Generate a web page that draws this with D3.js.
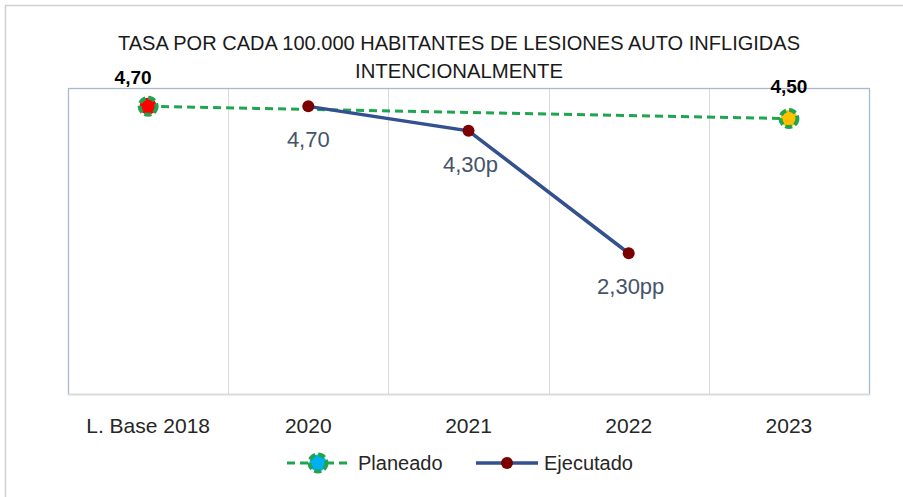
<!DOCTYPE html>
<html>
<head>
<meta charset="utf-8">
<script src="https://cdn.jsdelivr.net/npm/d3@7"></script>
<style>
  body { margin: 0; background: #fff; }
  svg { display: block; font-family: "Liberation Sans", Arial, sans-serif; }
</style>
</head>
<body>
<svg id="chart" width="903" height="497"></svg>
<script>
// chart data
let categories = ["L. Base 2018", "2020", "2021", "2022", "2023"];
let planeado = [4.70, null, null, null, 4.50];
let planeadoLabels = ["4,70", null, null, null, "4,50"];
let ejecutado = [null, 4.70, 4.30, 2.30, null];
let ejecutadoLabels = [null, "4,70", "4,30p", "2,30pp", null];
let titleLines = ["TASA POR CADA 100.000 HABITANTES DE LESIONES AUTO INFLIGIDAS", "INTENCIONALMENTE"];

let svg = d3.select("#chart");
let plot = { left: 68, right: 869, top: 88, bottom: 394 };

let x = d3.scaleBand()
    .domain(categories)
    .range([plot.left, plot.right]);

let y = d3.scaleLinear()
    .domain([0, 5])
    .range([plot.bottom, plot.top]);

//outer chart border
svg.append("rect")
    .attr("x", 5.5).attr("y", 5.5)
    .attr("width", 950).attr("height", 550)
    .attr("fill", "none")
    .attr("stroke", "#d0d0d0")
    .attr("stroke-width", 1.5);

//title (squeezed to look like the condensed original)
svg.selectAll(".title")
    .data(titleLines)
    .enter()
    .append("text")
    .attr("class", "title")
    .attr("x", 459)
    .attr("y", (d, i) => 50 + i * 28)
    .attr("text-anchor", "middle")
    .attr("textLength", (d, i) => i == 0 ? 682 : 208)
    .attr("lengthAdjust", "spacingAndGlyphs")
    .style("font-size", "21px")
    .style("fill", "#1a1a1a")
    .text(d => d);

//vertical gridlines between categories
svg.selectAll(".grid")
    .data(categories.slice(1))
    .enter()
    .append("line")
    .attr("x1", d => Math.round(x(d)) + 0.5)
    .attr("x2", d => Math.round(x(d)) + 0.5)
    .attr("y1", plot.top)
    .attr("y2", plot.bottom)
    .attr("stroke", "#d9d9d9")
    .attr("stroke-width", 1);

//plot area border
svg.append("rect")
    .attr("x", plot.left + 0.5).attr("y", plot.top + 0.5)
    .attr("width", plot.right - plot.left).attr("height", plot.bottom - plot.top)
    .attr("fill", "none")
    .attr("stroke", "#a9b8d2")
    .attr("stroke-width", 1.3);

svg.append("line")
    .attr("x1", plot.left).attr("x2", plot.right + 1)
    .attr("y1", plot.bottom + 0.5).attr("y2", plot.bottom + 0.5)
    .attr("stroke", "#d9d9d9")
    .attr("stroke-width", 1.5);

//x axis labels
let xAxis = d3.axisBottom(x).tickSize(0).tickPadding(0);
let gx = svg.append("g")
    .attr("transform", "translate(0," + (plot.bottom + 24) + ")")
    .call(xAxis);
gx.select(".domain").remove();
gx.selectAll("text")
    .attr("dy", "0.71em")
    .style("font-family", "\"Liberation Sans\", Arial, sans-serif")
    .style("font-size", "21px")
    .style("fill", "#262626");

let cx = (d, i) => x(categories[i]) + x.bandwidth() / 2;

//planeado dashed line
let planPoints = planeado.map((v, i) => ({ v: v, i: i })).filter(d => d.v != null);
let lineGen = d3.line()
    .x(d => cx(null, d.i))
    .y(d => y(d.v));

svg.append("path")
    .attr("d", lineGen(planPoints))
    .attr("fill", "none")
    .attr("stroke", "#1fa54f")
    .attr("stroke-width", 3)
    .attr("stroke-dasharray", "8,5");

//ejecutado solid line
let ejePoints = ejecutado.map((v, i) => ({ v: v, i: i })).filter(d => d.v != null);
svg.append("path")
    .attr("d", lineGen(ejePoints))
    .attr("fill", "none")
    .attr("stroke", "#33508f")
    .attr("stroke-width", 3.5);

function fancyMarker(g, px, py, fillColor)
{
    g.append("circle")
        .attr("cx", px).attr("cy", py).attr("r", 8.5)
        .attr("fill", fillColor)
        .attr("stroke", "#1fa54f")
        .attr("stroke-width", 4)
        .attr("stroke-dasharray", "7,3");
}

//planeado markers
let planColors = ["#ff0000", null, null, null, "#ffc000"];
planPoints.forEach(d => {
    fancyMarker(svg, cx(null, d.i), y(d.v), planColors[d.i]);
});

//ejecutado markers
svg.selectAll(".eje")
    .data(ejePoints)
    .enter()
    .append("circle")
    .attr("cx", d => cx(null, d.i))
    .attr("cy", d => y(d.v))
    .attr("r", 6)
    .attr("fill", "#7b0000");

//planeado labels
svg.selectAll(".planLabel")
    .data(planPoints)
    .enter()
    .append("text")
    .attr("x", d => cx(null, d.i) + (d.i == 0 ? -15 : 0))
    .attr("y", d => y(d.v) - (d.i == 0 ? 22 : 26))
    .attr("text-anchor", "middle")
    .style("font-size", "19px")
    .style("font-weight", "bold")
    .style("fill", "#000")
    .text(d => planeadoLabels[d.i]);

//ejecutado labels
svg.selectAll(".ejeLabel")
    .data(ejePoints)
    .enter()
    .append("text")
    .attr("x", d => cx(null, d.i) + (d.i == 1 ? 0 : 2))
    .attr("y", d => y(d.v) + 41)
    .attr("text-anchor", "middle")
    .style("font-size", "22px")
    .style("fill", "#44546a")
    .text(d => ejecutadoLabels[d.i]);

//legend
let legendY = 463;
let leg = svg.append("g");

leg.append("line")
    .attr("x1", 287).attr("x2", 352)
    .attr("y1", legendY).attr("y2", legendY)
    .attr("stroke", "#1fa54f")
    .attr("stroke-width", 3)
    .attr("stroke-dasharray", "8,5");
fancyMarker(leg, 318, legendY, "#00b0f0");
leg.append("text")
    .attr("x", 358).attr("y", legendY + 7)
    .style("font-size", "20px")
    .style("fill", "#262626")
    .text("Planeado");

leg.append("line")
    .attr("x1", 476).attr("x2", 538)
    .attr("y1", legendY).attr("y2", legendY)
    .attr("stroke", "#33508f")
    .attr("stroke-width", 3.5);
leg.append("circle")
    .attr("cx", 507).attr("cy", legendY).attr("r", 6)
    .attr("fill", "#7b0000");
leg.append("text")
    .attr("x", 544).attr("y", legendY + 7)
    .style("font-size", "20px")
    .style("fill", "#262626")
    .text("Ejecutado");
</script>
</body>
</html>
